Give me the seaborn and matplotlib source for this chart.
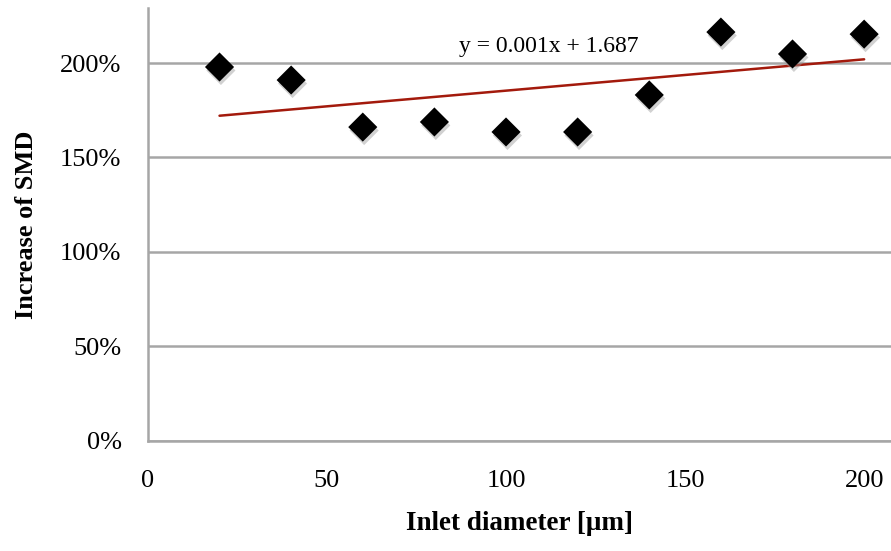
import matplotlib
matplotlib.use("Agg")
import matplotlib.pyplot as plt
import matplotlib.patheffects as pe
import numpy as np
import pandas as pd
import seaborn as sns

# values
inlet_diameter = [20, 40, 60, 80, 100, 120, 140, 160, 180, 200]
smd_increase = [1.979, 1.910, 1.661, 1.688, 1.635, 1.635, 1.831, 2.164, 2.048, 2.153]
x_ticks = [0, 50, 100, 150, 200]
y_ticks = [0, 0.5, 1.0, 1.5, 2.0]
y_tick_labels = ["0%", "50%", "100%", "150%", "200%"]
trend_label = "y = 0.001x + 1.687"

df = pd.DataFrame({"Inlet diameter": inlet_diameter, "Increase": smd_increase})

sns.set_style("white")
plt.rcParams["font.family"] = ["Liberation Serif", "DejaVu Serif"]
plt.rcParams["text.color"] = "black"
plt.rcParams["xtick.color"] = "black"
plt.rcParams["ytick.color"] = "black"
plt.rcParams["axes.labelcolor"] = "black"

fig = plt.figure(figsize=(8.91, 5.51), dpi=100)
ax = fig.add_axes([0.166, 0.2, 0.834, 0.785])

ax.set_xlim(0, 207.5)
ax.set_ylim(0, 2.29)
ax.set_yticks(y_ticks)
ax.set_yticklabels(y_tick_labels)
ax.set_xticks(x_ticks)
ax.yaxis.grid(True, color="#a6a6a6", linewidth=1.8)
ax.set_axisbelow(True)

# linear trendline
slope, intercept = np.polyfit(inlet_diameter, smd_increase, 1)
xs = np.array([min(inlet_diameter), max(inlet_diameter)])
ax.plot(xs, slope * xs + intercept, color="#a31a0c", linewidth=1.8, zorder=3)

sns.scatterplot(data=df, x="Inlet diameter", y="Increase", marker="D",
                s=220, color="black", edgecolor="black", linewidth=0,
                ax=ax, zorder=4)
ax.collections[-1].set_path_effects([
    pe.SimplePatchShadow(offset=(1, -2.5), shadow_rgbFace="#999999", alpha=0.45),
    pe.Normal()])

ax.text(112, 2.085, trend_label, ha="center", va="center", fontsize=17)

for side in ["top", "right"]:
    ax.spines[side].set_visible(False)
for side in ["left", "bottom"]:
    ax.spines[side].set_color("#a6a6a6")
    ax.spines[side].set_linewidth(1.8)

ax.tick_params(axis="both", direction="out", length=7, width=1.8,
               color="#a6a6a6", labelcolor="black", labelsize=19)
ax.tick_params(axis="y", pad=12)
ax.tick_params(axis="x", pad=14)

ax.set_xlabel("Inlet diameter [μm]", fontsize=19.5, fontweight="bold", labelpad=14)
ax.set_ylabel("Increase of SMD", fontsize=19, fontweight="bold", labelpad=16)

fig.savefig("out.png", dpi=100)
